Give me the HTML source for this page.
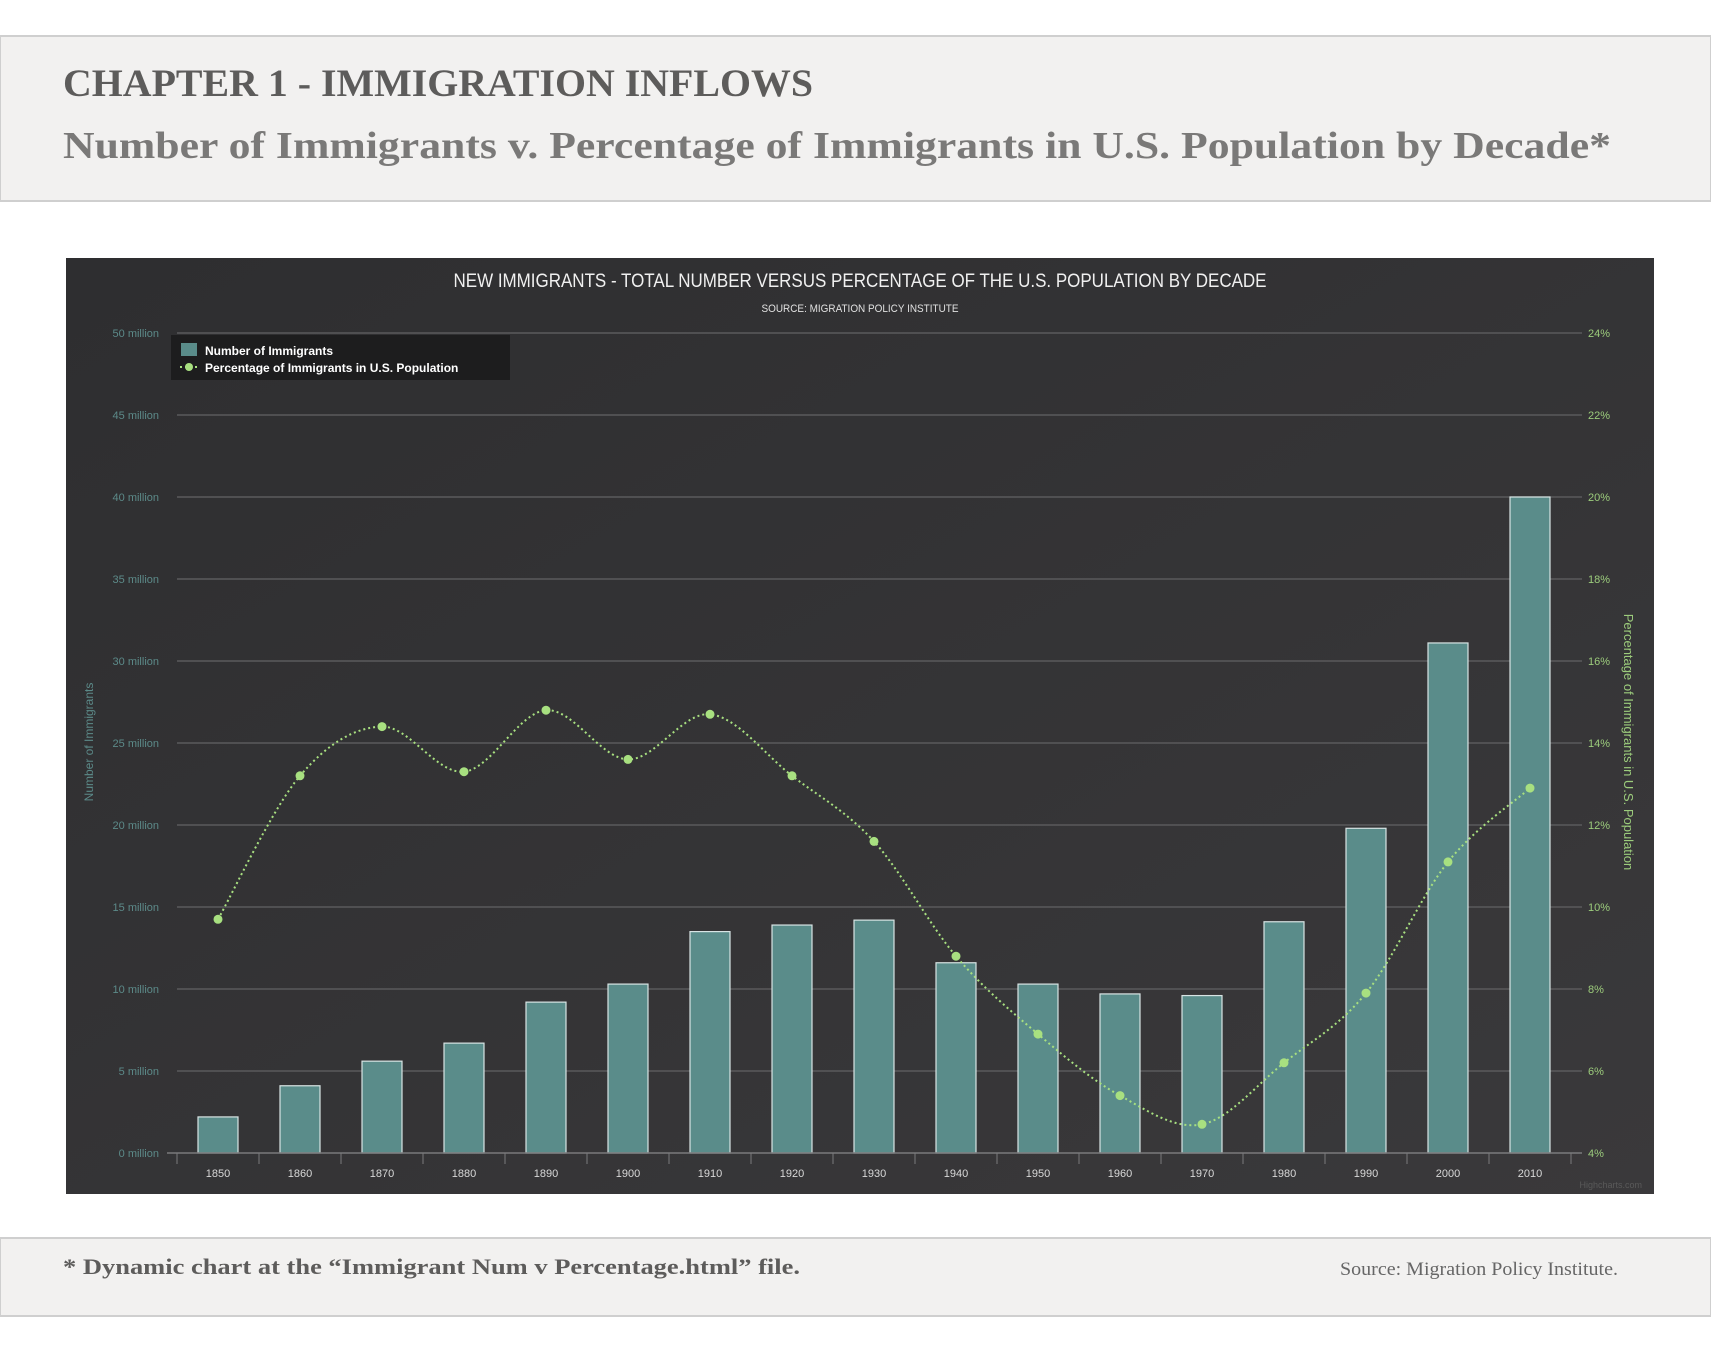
<!DOCTYPE html>
<html><head><meta charset="utf-8"><style>
html,body{margin:0;padding:0;background:#fff;}
svg{display:block;}
</style></head><body>
<svg id="page" width="1711" height="1350" viewBox="0 0 1711 1350" xmlns="http://www.w3.org/2000/svg">
  <defs>
    <linearGradient id="bg" x1="0" y1="0" x2="1" y2="1">
      <stop offset="0" stop-color="#2e2e30"/>
      <stop offset="1" stop-color="#3a393b"/>
    </linearGradient>
  </defs>
  <g>
    <rect x="0" y="36" width="1711" height="165" fill="#f2f1f0" stroke="#cfcfcf" stroke-width="2"/>
    <text x="63" y="96" font-family="Liberation Serif, serif" font-weight="bold" font-size="39" fill="#5d5c5b" textLength="750" lengthAdjust="spacingAndGlyphs">CHAPTER 1 - IMMIGRATION INFLOWS</text>
    <text x="63" y="158" font-family="Liberation Serif, serif" font-weight="bold" font-size="38" fill="#7a7978" textLength="1548" lengthAdjust="spacingAndGlyphs">Number of Immigrants v. Percentage of Immigrants in U.S. Population by Decade*</text>
  </g>
  <g id="chart">
    <rect x="66" y="258" width="1588" height="936" fill="url(#bg)"/>
    <text x="860" y="287" text-anchor="middle" font-family="Liberation Sans, sans-serif" font-size="19" fill="#f0f0f0" textLength="813" lengthAdjust="spacingAndGlyphs">NEW IMMIGRANTS -  TOTAL NUMBER VERSUS PERCENTAGE OF THE U.S. POPULATION BY DECADE</text>
    <text x="860" y="312" text-anchor="middle" font-family="Liberation Sans, sans-serif" font-size="11" fill="#e0e0e0" textLength="197" lengthAdjust="spacingAndGlyphs">SOURCE: MIGRATION POLICY INSTITUTE</text>
    <g id="grid"></g>
    <g id="bars"></g>
    <g id="line"></g>
    <g id="axes"></g>
    <text transform="translate(93,742) rotate(-90)" text-anchor="middle" font-family="Liberation Sans, sans-serif" font-size="12" fill="#5c8a89">Number of Immigrants</text>
    <text transform="translate(1624,742) rotate(90)" text-anchor="middle" font-family="Liberation Sans, sans-serif" font-size="13" fill="#9ccc7c">Percentage of Immigrants in U.S. Population</text>
    <g>
      <rect x="171" y="335" width="339" height="45" fill="#1d1d1e"/>
      <rect x="181" y="343" width="16" height="13" fill="#5a8c8a"/>
      <text x="205" y="355" font-family="Liberation Sans, sans-serif" font-weight="bold" font-size="12" fill="#fff">Number of Immigrants</text>
      <line x1="180" y1="367" x2="198" y2="367" stroke="#a8e080" stroke-width="2" stroke-dasharray="2,3"/>
      <circle cx="189" cy="367" r="4" fill="#a8e080"/>
      <text x="205" y="372" font-family="Liberation Sans, sans-serif" font-weight="bold" font-size="12" fill="#fff">Percentage of Immigrants in U.S. Population</text>
    </g>
    <text x="1642" y="1188" text-anchor="end" font-family="Liberation Sans, sans-serif" font-size="9" fill="#5a5a5a">Highcharts.com</text>
  </g>
  <g>
    <rect x="0" y="1238" width="1711" height="78" fill="#f2f1f0" stroke="#cfcfcf" stroke-width="2"/>
    <text x="63" y="1274" font-family="Liberation Serif, serif" font-weight="bold" font-size="22" fill="#5d5c5b" textLength="737" lengthAdjust="spacingAndGlyphs">* Dynamic chart at the “Immigrant Num v Percentage.html” file.</text>
    <text x="1618" y="1275" text-anchor="end" font-family="Liberation Serif, serif" font-size="19" fill="#666" textLength="278" lengthAdjust="spacingAndGlyphs">Source: Migration Policy Institute.</text>
  </g>
</svg>
<script>
const categories = ['1850','1860','1870','1880','1890','1900','1910','1920','1930','1940','1950','1960','1970','1980','1990','2000','2010'];
const immigrants = [2.2,4.1,5.6,6.7,9.2,10.3,13.5,13.9,14.2,11.6,10.3,9.7,9.6,14.1,19.8,31.1,40.0];
const percentages = [9.7,13.2,14.4,13.3,14.8,13.6,14.7,13.2,11.6,8.8,6.9,5.4,4.7,6.2,7.9,11.1,12.9];
const leftTicks = [0,5,10,15,20,25,30,35,40,45,50];
const rightTicks = [4,6,8,10,12,14,16,18,20,22,24];

const NS = 'http://www.w3.org/2000/svg';
const PL = 177, PR = 1571, PT = 333, PB = 1153;
const cw = (PR - PL) / categories.length;
function xc(i){ return PL + cw * (i + 0.5); }
function yL(v){ return PB - (v - 0) / (50 - 0) * (PB - PT); }
function yR(v){ return PB - (v - 4) / (24 - 4) * (PB - PT); }
function mk(tag, attrs, parent){ const e = document.createElementNS(NS, tag); for (const k in attrs) e.setAttribute(k, attrs[k]); parent.appendChild(e); return e; }

const grid = document.getElementById('grid');
const axes = document.getElementById('axes');
leftTicks.forEach((t, i) => {
  const y = yL(t);
  if (i > 0) {
    const g = mk('line', {x1: PL, x2: PR + 11, y1: y, y2: y, stroke: '#5a5a5c', 'stroke-width': 1.5}, grid);
    
    
  }
  const lt = mk('text', {x: 159, y: y + 4, 'text-anchor': 'end', 'font-family': 'Liberation Sans, sans-serif', 'font-size': 11, fill: '#5c8a89'}, axes);
  lt.textContent = t + ' million';
  
  
});
rightTicks.forEach(t => {
  const rt = mk('text', {x: 1588, y: yR(t) + 4, 'font-family': 'Liberation Sans, sans-serif', 'font-size': 11, fill: '#9ccc7c'}, axes);
  rt.textContent = t + '%';
  
  
});
const ax = mk('line', {x1: PL - 10, x2: PR + 11, y1: PB, y2: PB, stroke: '#7a7a7c', 'stroke-width': 1.5}, axes);


for (let i = 0; i <= categories.length; i++) {
  const x = PL + cw * i;
  const tk = mk('line', {x1: x, x2: x, y1: PB, y2: PB + 11, stroke: '#7a7a7c', 'stroke-width': 1}, axes);
  
  
}
categories.forEach((c, i) => {
  const t = mk('text', {x: xc(i), y: PB + 24, 'text-anchor': 'middle', 'font-family': 'Liberation Sans, sans-serif', 'font-size': 11, fill: '#d8d8d8'}, axes);
  t.textContent = c;
  
  
});

const bars = document.getElementById('bars');
immigrants.forEach((v, i) => {
  const y = yL(v);
  const b = mk('rect', {x: xc(i) - 20, y: y, width: 40, height: PB - y, fill: '#5a8c8a', stroke: '#d8e4e4', 'stroke-width': 1.2}, bars);
  
  
});

const lineG = document.getElementById('line');
const pts = percentages.map((v, i) => [xc(i), yR(v)]);
let d = 'M' + pts[0][0] + ',' + pts[0][1];
for (let i = 0; i < pts.length - 1; i++) {
  const p0 = pts[Math.max(0, i - 1)], p1 = pts[i], p2 = pts[i + 1], p3 = pts[Math.min(pts.length - 1, i + 2)];
  const c1x = p1[0] + (p2[0] - p0[0]) / 6, c1y = p1[1] + (p2[1] - p0[1]) / 6;
  const c2x = p2[0] - (p3[0] - p1[0]) / 6, c2y = p2[1] - (p3[1] - p1[1]) / 6;
  d += ' C' + c1x + ',' + c1y + ' ' + c2x + ',' + c2y + ' ' + p2[0] + ',' + p2[1];
}
const path = mk('path', {d: d, fill: 'none', stroke: '#a8e080', 'stroke-width': 2, 'stroke-dasharray': '2,3'}, lineG);


pts.forEach((p, i) => {
  const c = mk('circle', {cx: p[0], cy: p[1], r: 4.5, fill: '#a8e080'}, lineG);
  
  
});
</script>
</body></html>
